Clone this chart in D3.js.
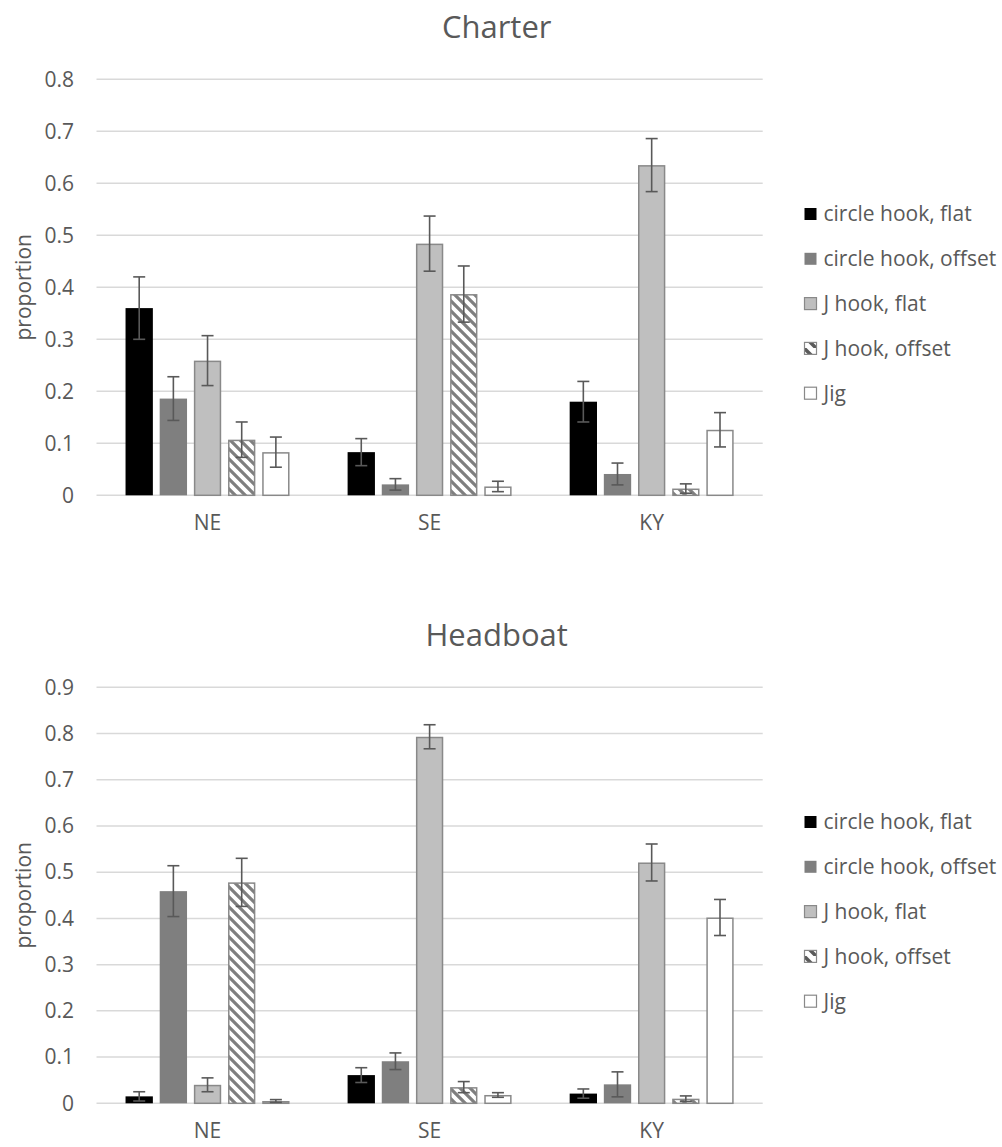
<!DOCTYPE html>
<html><head><meta charset="utf-8">
<script src="https://cdn.jsdelivr.net/npm/d3@7"></script>
<style>body{margin:0;background:#fff;} text{font-family:"Open Sans",sans-serif;fill:#595959;}</style>
</head><body>
<svg id="chart" width="1002" height="1147"></svg>
<script>
const categories = ["NE", "SE", "KY"];
const seriesNames = ["circle hook, flat", "circle hook, offset", "J hook, flat", "J hook, offset", "Jig"];

// Charter values per series (NE, SE, KY)
const charterCircleFlat   = [0.360, 0.083, 0.180];
const charterCircleOffset = [0.186, 0.021, 0.041];
const charterJFlat        = [0.259, 0.484, 0.635];
const charterJOffset      = [0.107, 0.387, 0.013];
const charterJig          = [0.083, 0.017, 0.126];
const charterErrors = [
  [0.060, 0.026, 0.039],
  [0.042, 0.011, 0.021],
  [0.048, 0.053, 0.051],
  [0.034, 0.054, 0.009],
  [0.029, 0.010, 0.033]
];

// Headboat values per series (NE, SE, KY)
const headCircleFlat   = [0.015, 0.061, 0.021];
const headCircleOffset = [0.459, 0.091, 0.041];
const headJFlat        = [0.040, 0.793, 0.521];
const headJOffset      = [0.478, 0.035, 0.010];
const headJig          = [0.005, 0.018, 0.402];
const headErrors = [
  [0.010, 0.016, 0.010],
  [0.055, 0.018, 0.027],
  [0.015, 0.026, 0.040],
  [0.052, 0.012, 0.006],
  [0.003, 0.005, 0.039]
];

const charterTicks = [0, 0.1, 0.2, 0.3, 0.4, 0.5, 0.6, 0.7, 0.8];
const headTicks = [0, 0.1, 0.2, 0.3, 0.4, 0.5, 0.6, 0.7, 0.8, 0.9];

const charts = [
  {title: "Charter", values: [charterCircleFlat, charterCircleOffset, charterJFlat, charterJOffset, charterJig], errors: charterErrors, ticks: charterTicks, max: 0.8, offset: 0},
  {title: "Headboat", values: [headCircleFlat, headCircleOffset, headJFlat, headJOffset, headJig], errors: headErrors, ticks: headTicks, max: 0.9, offset: 608}
];

const fills = ["#000000", "#7f7f7f", "#bfbfbf", "url(#hatch)", "#ffffff"];
const strokes = ["none", "none", "#898989", "#898989", "#898989"];

const svg = d3.select("#chart");
const defs = svg.append("defs");
const pat = defs.append("pattern").attr("id", "hatch").attr("patternUnits", "userSpaceOnUse")
  .attr("width", 10).attr("height", 10);
pat.append("rect").attr("width", 10).attr("height", 10).attr("fill", "#fff");
pat.append("path").attr("d", "M-3,-3L13,13M-3,7L3,13M7,-3L13,3")
  .attr("stroke", "#7f7f7f").attr("stroke-width", 3.2);
const patL = defs.append("pattern").attr("id", "hatchL").attr("patternUnits", "userSpaceOnUse")
  .attr("width", 12).attr("height", 12);
patL.append("rect").attr("width", 12).attr("height", 12).attr("fill", "#fff");
patL.append("path").attr("d", "M-2,-2L14,14")
  .attr("stroke", "#5a5a5a").attr("stroke-width", 3.5);

const plotLeft = 96.5, plotRight = 762.7, plotTop = 79.3, plotBottom = 495.3;

charts.forEach(ch => {
  const g = svg.append("g").attr("transform", `translate(0,${ch.offset})`);
  const y = d3.scaleLinear().domain([0, ch.max]).range([plotBottom, plotTop]);
  const x0 = d3.scaleBand().domain(categories).range([plotLeft, plotRight]);
  const x1 = d3.scaleBand().domain(seriesNames).range([0, 164]).paddingInner(0.2);
  const groupOff = (x0.bandwidth() - 164) / 2;

  g.append("text").attr("x", 496.7).attr("y", 38).attr("text-anchor", "middle")
    .attr("font-size", 31).text(ch.title);

  // gridlines
  g.append("g").selectAll("line").data(ch.ticks).join("line")
    .attr("x1", plotLeft).attr("x2", plotRight)
    .attr("y1", d => y(d)).attr("y2", d => y(d))
    .attr("stroke", "#d9d9d9").attr("stroke-width", 1.5);

  // y axis
  const yAxis = d3.axisLeft(y).tickValues(ch.ticks).tickSize(0).tickPadding(0)
    .tickFormat(d => d === 0 ? "0" : d3.format(".1f")(d));
  const ya = g.append("g").attr("transform", `translate(74,0)`).call(yAxis);
  ya.select(".domain").remove();
  ya.selectAll("text").attr("font-size", 21).attr("fill", "#595959")
    .attr("font-family", "Open Sans");

  // x axis labels
  const xAxis = d3.axisBottom(x0).tickSize(0).tickPadding(20);
  const xa = g.append("g").attr("transform", `translate(0,${plotBottom})`).call(xAxis);
  xa.select(".domain").remove();
  xa.selectAll("text").attr("font-size", 21).attr("fill", "#595959")
    .attr("font-family", "Open Sans");

  // y title
  g.append("text").attr("transform", `translate(31,${(plotTop + plotBottom) / 2}) rotate(-90)`)
    .attr("text-anchor", "middle").attr("font-size", 21).text("proportion");

  // bars
  seriesNames.forEach((s, si) => {
    const data = categories.map((c, ci) => ({c, v: ch.values[si][ci], e: ch.errors[si][ci]}));
    const sg = g.append("g");
    const hasStroke = strokes[si] !== "none";
    sg.selectAll("rect").data(data).join("rect")
      .attr("x", d => x0(d.c) + groupOff + x1(s) + (hasStroke ? 0.75 : 0))
      .attr("width", x1.bandwidth() - (hasStroke ? 1.5 : 0))
      .attr("y", d => y(d.v) + (hasStroke ? 0.75 : 0))
      .attr("height", d => Math.max(0, plotBottom - y(d.v) - (hasStroke ? 0.75 : 0)))
      .attr("fill", fills[si]).attr("stroke", strokes[si]).attr("stroke-width", 1.5);
    // error bars
    const eg = sg.append("g").attr("stroke", "#595959").attr("stroke-width", 1.6);
    data.forEach(d => {
      const cx = x0(d.c) + groupOff + x1(s) + x1.bandwidth() / 2;
      const yHi = y(d.v + d.e), yLo = y(Math.max(0, d.v - d.e));
      eg.append("line").attr("x1", cx).attr("x2", cx).attr("y1", yHi).attr("y2", yLo);
      eg.append("line").attr("x1", cx - 6).attr("x2", cx + 6).attr("y1", yHi).attr("y2", yHi);
      eg.append("line").attr("x1", cx - 6).attr("x2", cx + 6).attr("y1", yLo).attr("y2", yLo);
    });
  });

  // legend
  const legFills = ["#000000", "#7f7f7f", "#bfbfbf", "url(#hatchL)", "#ffffff"];
  const lg = g.append("g");
  seriesNames.forEach((s, i) => {
    const cy = 214 + i * 44.8;
    lg.append("rect").attr("x", 804.5).attr("y", cy - 6).attr("width", 12).attr("height", 12)
      .attr("fill", legFills[i]).attr("stroke", strokes[i] === "none" ? "none" : "#898989").attr("stroke-width", 1.2);
    lg.append("text").attr("x", 823.5).attr("y", cy).attr("dy", "0.35em")
      .attr("font-size", 21).text(s);
  });
});
</script>
</body></html>
